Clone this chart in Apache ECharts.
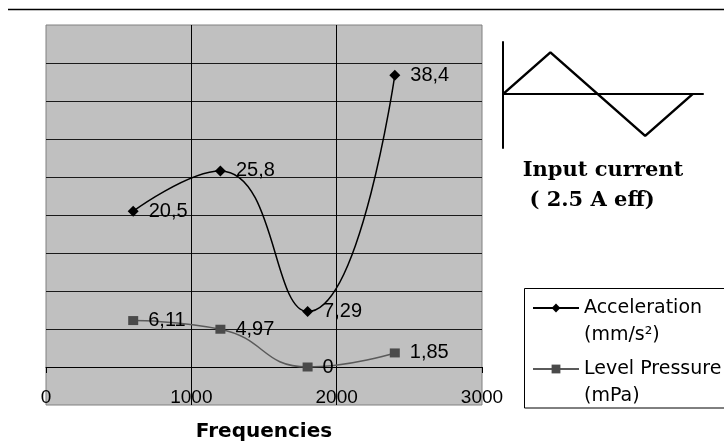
<!DOCTYPE html>
<html>
<head>
<meta charset="utf-8">
<script src="https://cdn.jsdelivr.net/npm/echarts@6/dist/echarts.min.js"></script>
<style>
html,body{margin:0;padding:0;background:#fff;}
#c{width:724px;height:444px;}
</style>
</head>
<body>
<div id="c"></div>
<script>
var frequencies = [600, 1200, 1800, 2400];
var acceleration = [20.5, 25.8, 7.29, 38.4];
var pressure = [6.11, 4.97, 0, 1.85];
var seriesNames = ['Acceleration', 'Level Pressure'];
var seriesUnits = ['(mm/s\u00b2)', '(mPa)'];
var xTicks = [0, 1000, 2000, 3000];
var waveX = [0, 1, 2, 3, 4];
var waveY = [0, 1, 0, -1, 0];
var insetTitle = 'Input current';
var insetSub = '( 2.5 A eff)';

function pairs(xs, ys) { return xs.map(function (x, i) { return [x, ys[i]]; }); }
function fmt(p) { return String(p.value[1]).replace('.', ','); }

var chart = echarts.init(document.getElementById('c'), null, {renderer: 'canvas'});
var option = {
  animation: false,
  backgroundColor: '#fff',
  grid: [
    {left: 46, top: 25, right: 242, bottom: 39, show: true, backgroundColor: '#c0c0c0', borderColor: '#808080', borderWidth: 1, outerBoundsMode: 'none', containLabel: false},
    {left: 503, top: 42, width: 200, height: 106, outerBoundsMode: 'none', containLabel: false}
  ],
  xAxis: [
    {
      type: 'value', gridIndex: 0, min: xTicks[0], max: xTicks[xTicks.length - 1], interval: 1000,
      name: 'Frequencies', nameLocation: 'middle', nameGap: 17,
      nameTextStyle: {fontFamily: 'DejaVu Sans', fontWeight: 'bold', fontSize: 20, color: '#000'},
      axisLine: {onZero: true, lineStyle: {color: '#000', width: 1}},
      axisTick: {show: true, length: 6, lineStyle: {color: '#000'}},
      axisLabel: {margin: -17, fontFamily: 'Liberation Sans', fontSize: 19, color: '#000', formatter: function (v) { return String(v); }},
      splitLine: {show: true, showMinLine: false, showMaxLine: false, lineStyle: {color: '#000', width: 1}}
    },
    {
      type: 'value', gridIndex: 1, min: 0, max: 4.22,
      axisLine: {onZero: true, lineStyle: {color: '#000', width: 2}},
      axisTick: {show: false}, axisLabel: {show: false}, splitLine: {show: false}
    }
  ],
  yAxis: [
    {
      type: 'value', gridIndex: 0, min: -5, max: 45, interval: 5,
      axisLine: {show: false}, axisTick: {show: false}, axisLabel: {show: false},
      splitLine: {show: true, showMinLine: false, showMaxLine: false, lineStyle: {color: '#1a1a1a', width: 1}}
    },
    {
      type: 'value', gridIndex: 1, min: -1.29, max: 1.25,
      axisLine: {show: true, onZero: false, lineStyle: {color: '#000', width: 2}},
      axisTick: {show: false}, axisLabel: {show: false}, splitLine: {show: false}
    }
  ],
  legend: {
    orient: 'vertical', left: 532, top: 267.5,
    padding: 0,
    itemWidth: 46, itemHeight: 11, itemGap: -20,
    data: seriesNames,
    formatter: function (name) { return '\n' + name + '\n' + seriesUnits[seriesNames.indexOf(name)]; },
    textStyle: {fontFamily: 'DejaVu Sans', fontSize: 19, lineHeight: 27, color: '#000'}
  },
  series: [
    {
      name: seriesNames[0], type: 'line', xAxisIndex: 0, yAxisIndex: 0,
      data: pairs(frequencies, acceleration), smooth: 0.5,
      symbol: 'diamond', symbolSize: [11, 11],
      lineStyle: {color: '#000', width: 1.5}, itemStyle: {color: '#000'},
      label: {show: true, position: 'right', distance: 10, formatter: fmt, fontFamily: 'Liberation Sans', fontSize: 20, color: '#000'}
    },
    {
      name: seriesNames[1], type: 'line', xAxisIndex: 0, yAxisIndex: 0,
      data: pairs(frequencies, pressure), smooth: 0.5,
      symbol: 'rect', symbolSize: [10, 9],
      lineStyle: {color: '#5a5a5a', width: 1.5}, itemStyle: {color: '#4a4a4a'},
      label: {show: true, position: 'right', distance: 10, formatter: fmt, fontFamily: 'Liberation Sans', fontSize: 20, color: '#000'}
    },
    {
      name: 'wave', type: 'line', xAxisIndex: 1, yAxisIndex: 1,
      data: pairs(waveX, waveY), symbol: 'none', silent: true,
      lineStyle: {color: '#000', width: 2.5}
    }
  ],
  graphic: [
    {type: 'line', shape: {x1: 8, y1: 9.5, x2: 724, y2: 9.5}, style: {stroke: '#000', lineWidth: 1.5}},
    {type: 'rect', z: 1, shape: {x: 524.5, y: 288.5, width: 260, height: 119.5}, style: {fill: '#fff', stroke: '#000', lineWidth: 1}},
    {type: 'text', x: 603, y: 171, style: {text: insetTitle, font: 'bold 21px "DejaVu Serif"', fill: '#000', textAlign: 'center', textVerticalAlign: 'middle'}},
    {type: 'text', x: 592, y: 201, style: {text: insetSub, font: 'bold 21px "DejaVu Serif"', fill: '#000', textAlign: 'center', textVerticalAlign: 'middle'}}
  ]
};
chart.setOption(option);
</script>
</body>
</html>
